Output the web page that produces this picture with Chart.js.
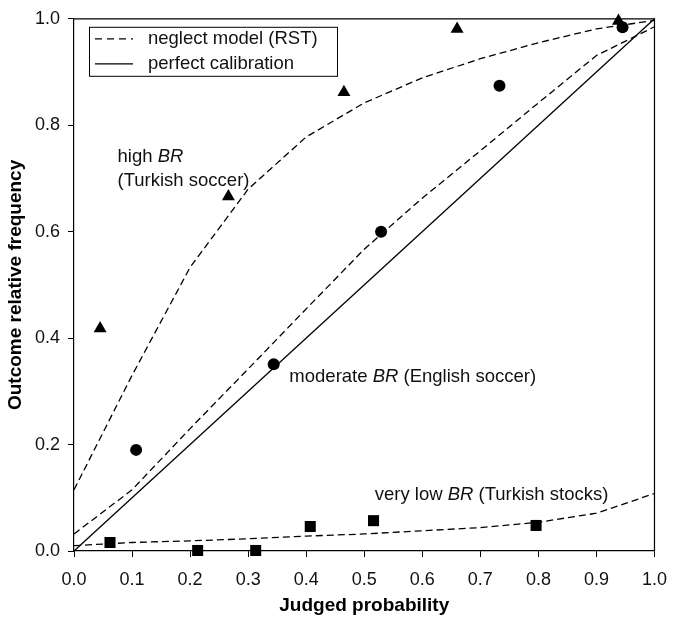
<!DOCTYPE html>
<html>
<head>
<meta charset="utf-8">
<script src="https://cdn.jsdelivr.net/npm/chart.js@4.4.1/dist/chart.umd.min.js"></script>
<style>
    html, body { margin: 0; padding: 0; background: #fff; }
    #wrap { width: 679px; height: 621px; position: relative; }
</style>
</head>
<body>
<div id="wrap"><canvas id="calib"></canvas></div>
<script>
// judged probability grid used by the neglect model curves
const deciles = [0.0, 0.1, 0.2, 0.3, 0.4, 0.5, 0.6, 0.7, 0.8, 0.9, 1.0];
const highModel = [0.115, 0.33, 0.533, 0.68, 0.778, 0.842, 0.889, 0.925, 0.955, 0.981, 0.997];
const moderateModel = [0.032, 0.115, 0.23, 0.342, 0.455, 0.567, 0.663, 0.752, 0.842, 0.931, 0.985];
const lowModel = [0.01, 0.016, 0.019, 0.023, 0.028, 0.032, 0.038, 0.044, 0.054, 0.071, 0.108];

// observed outcome frequencies
const highX = [0.045, 0.266, 0.465, 0.66, 0.938];
const highY = [0.418, 0.666, 0.862, 0.981, 0.996];
const moderateX = [0.107, 0.344, 0.529, 0.733, 0.945];
const moderateY = [0.19, 0.351, 0.6, 0.874, 0.984];
const lowX = [0.062, 0.213, 0.313, 0.407, 0.516, 0.796];
const lowY = [0.016, 0.001, 0.001, 0.046, 0.057, 0.048];

const calibX = [0, 1];
const calibY = [0, 1];

const toPoints = (xs, ys) => xs.map((x, i) => ({ x: x, y: ys[i] }));

const FONT = "'Liberation Sans', Arial, Helvetica, sans-serif";

const modelLine = (vals) => ({
    data: toPoints(deciles, vals),
    showLine: true,
    borderColor: '#000',
    borderWidth: 1.3,
    borderDash: [7, 4],
    pointRadius: 0,
    fill: false,
    clip: false
});

const markers = (xs, ys, style, r) => ({
    data: toPoints(xs, ys),
    showLine: false,
    pointStyle: style,
    pointRadius: r,
    pointBackgroundColor: '#000',
    pointBorderColor: '#000',
    pointBorderWidth: 0,
    clip: false
});

// text labels next to the curves, anchored in data units
const labels = [
    { x: 0.075, y: 0.74, parts: [['high ', false], ['BR', true]] },
    { x: 0.075, y: 0.696, parts: [['(Turkish soccer)', false]] },
    { x: 0.371, y: 0.327, parts: [['moderate ', false], ['BR', true], [' (English soccer)', false]] },
    { x: 0.518, y: 0.106, parts: [['very low ', false], ['BR', true], [' (Turkish stocks)', false]] }
];

function drawParts(ctx, x, y, parts) {
    ctx.textBaseline = 'middle';
    ctx.textAlign = 'left';
    parts.forEach(([txt, italic]) => {
        ctx.font = (italic ? 'italic ' : '') + '18.5px ' + FONT;
        ctx.fillText(txt, x, y);
        x += ctx.measureText(txt).width;
    });
}

const decorations = {
    id: 'decorations',
    afterDraw(chart) {
        const ctx = chart.ctx;
        const a = chart.chartArea;
        const xs = chart.scales.x, ys = chart.scales.y;
        ctx.save();
        ctx.strokeStyle = '#000';
        ctx.lineWidth = 1.2;
        ctx.beginPath();
        ctx.moveTo(a.left, a.top);
        ctx.lineTo(a.right, a.top);
        ctx.lineTo(a.right, a.bottom);
        ctx.stroke();

        ctx.fillStyle = '#111';
        labels.forEach(l => drawParts(ctx, xs.getPixelForValue(l.x), ys.getPixelForValue(l.y), l.parts));

        // legend box
        const bx = a.left + 15, by = a.top + 8, bw = 248, bh = 49;
        ctx.fillStyle = '#fff';
        ctx.fillRect(bx, by, bw, bh);
        ctx.lineWidth = 1;
        ctx.strokeRect(bx + 0.5, by + 0.5, bw, bh);
        ctx.lineWidth = 1.3;
        ctx.beginPath();
        ctx.setLineDash([7, 5]);
        ctx.moveTo(bx + 6, by + 12);
        ctx.lineTo(bx + 44, by + 12);
        ctx.stroke();
        ctx.setLineDash([]);
        ctx.beginPath();
        ctx.moveTo(bx + 6, by + 37);
        ctx.lineTo(bx + 44, by + 37);
        ctx.stroke();
        ctx.fillStyle = '#111';
        drawParts(ctx, bx + 59, by + 12, [['neglect model (RST)', false]]);
        drawParts(ctx, bx + 59, by + 37, [['perfect calibration', false]]);
        ctx.restore();
    }
};

const ctx = document.getElementById('calib').getContext('2d');
new Chart(ctx, {
    type: 'scatter',
    data: {
        datasets: [
            {
                data: toPoints(calibX, calibY),
                showLine: true,
                borderColor: '#000',
                borderWidth: 1.3,
                pointRadius: 0,
                clip: false
            },
            modelLine(highModel),
            modelLine(moderateModel),
            modelLine(lowModel),
            markers(highX, highY, 'triangle', 7.5),
            markers(moderateX, moderateY, 'circle', 6),
            markers(lowX, lowY, 'rect', 7.8)
        ]
    },
    options: {
        responsive: true,
        maintainAspectRatio: false,
        animation: false,
        layout: { padding: { top: 13, right: 14, left: 0, bottom: 0 } },
        plugins: {
            legend: { display: false },
            tooltip: { enabled: false }
        },
        scales: {
            x: {
                type: 'linear',
                min: 0,
                max: 1,
                afterFit(scale) { scale.height = 70; },
                ticks: {
                    stepSize: 0.1,
                    autoSkip: false,
                    maxRotation: 0,
                    padding: 12,
                    color: '#111',
                    font: { family: FONT, size: 18 },
                    callback: v => v.toFixed(1)
                },
                grid: { drawOnChartArea: false, drawTicks: true, tickLength: 6, color: '#000' },
                border: { color: '#000', width: 1.2 },
                title: {
                    display: true,
                    text: 'Judged probability',
                    color: '#000',
                    padding: { top: 0, bottom: 4 },
                    font: { family: FONT, size: 19, weight: 'bold' }
                }
            },
            y: {
                type: 'linear',
                min: 0,
                max: 1,
                afterFit(scale) { scale.width = 74; },
                ticks: {
                    stepSize: 0.2,
                    padding: 8,
                    color: '#111',
                    font: { family: FONT, size: 18 },
                    callback: v => v.toFixed(1)
                },
                grid: { drawOnChartArea: false, drawTicks: true, tickLength: 6, color: '#000' },
                border: { color: '#000', width: 1.2 },
                title: {
                    display: true,
                    text: 'Outcome relative frequency',
                    color: '#000',
                    padding: { top: 4, bottom: 0 },
                    font: { family: FONT, size: 19, weight: 'bold' }
                }
            }
        }
    },
    plugins: [decorations]
});
</script>
</body>
</html>
